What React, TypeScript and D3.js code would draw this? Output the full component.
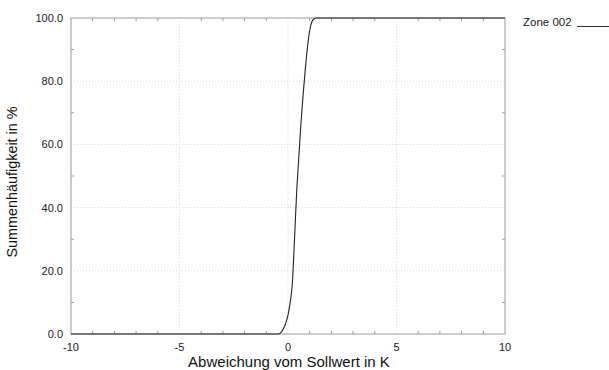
import React from "react";
import * as d3 from "d3";

const xTicks = [-10, -5, 0, 5, 10];
const yTicks = [0, 20, 40, 60, 80, 100];
const xMinor = [-9, -8, -7, -6, -4, -3, -2, -1, 1, 2, 3, 4, 6, 7, 8, 9];
const yMinor = [10, 30, 50, 70, 90];

const seriesName = "Zone 002";
const devX = [-10, -0.5, -0.4, -0.3, -0.2, -0.1, 0.0, 0.1, 0.2, 0.3, 0.4, 0.5, 0.6, 0.7, 0.8, 0.9, 1.0, 1.1, 1.2, 1.3, 10];
const cumY = [0, 0, 0.1, 0.7, 1.8, 3.5, 6, 10, 16, 30, 45, 56, 67, 76, 84, 91, 96, 98.8, 99.7, 100, 100];

const W = 609, H = 370;
const L = 71, R = 505, T = 18, B = 334;
const FONT = "'Liberation Sans', Arial, sans-serif";

export default function App() {
  const x = d3.scaleLinear().domain([-10, 10]).range([L, R]);
  const y = d3.scaleLinear().domain([0, 100]).range([B, T]);
  const pts: [number, number][] = devX.map((d, i) => [d, cumY[i]]);
  const line = d3.line<[number, number]>()
    .x(d => x(d[0]))
    .y(d => y(d[1]))
    .curve(d3.curveMonotoneX);
  const axisCol = "#9a9a9a";
  const gridCol = "#d4d4d4";
  const tl = 3;
  return (
    <svg width={W} height={H} style={{ position: "fixed", left: 0, top: 0 }} fontFamily={FONT}>
      <rect width={W} height={H} fill="#fff" />
      {xTicks.slice(1, -1).map(t => (
        <line key={"gx" + t} x1={x(t)} x2={x(t)} y1={T} y2={B} stroke={gridCol} strokeDasharray="1,2" />
      ))}
      {yTicks.slice(1, -1).map(t => (
        <line key={"gy" + t} x1={L} x2={R} y1={y(t)} y2={y(t)} stroke={gridCol} strokeDasharray="1,2" />
      ))}
      {xMinor.map(t => (
        <g key={"mx" + t} stroke={axisCol}>
          <line x1={x(t)} x2={x(t)} y1={B} y2={B - tl} />
          <line x1={x(t)} x2={x(t)} y1={T} y2={T + tl} />
        </g>
      ))}
      {yMinor.map(t => (
        <g key={"my" + t} stroke={axisCol}>
          <line x1={L} x2={L + tl} y1={y(t)} y2={y(t)} />
          <line x1={R} x2={R - tl} y1={y(t)} y2={y(t)} />
        </g>
      ))}
      <rect x={L} y={T} width={R - L} height={B - T} fill="none" stroke={axisCol} />
      <path d={line(pts) || ""} fill="none" stroke="#222" strokeWidth={1.1} />
      {xTicks.map(t => (
        <text key={"tx" + t} x={x(t)} y={351} textAnchor="middle" fontSize={11} fill="#222">{t}</text>
      ))}
      {yTicks.map(t => (
        <text key={"ty" + t} x={63} y={y(t) + 4} textAnchor="end" fontSize={11} fill="#222">{t.toFixed(1)}</text>
      ))}
      <text x={289} y={367} textAnchor="middle" fontSize={15} fill="#111">Abweichung vom Sollwert in K</text>
      <text transform={`translate(16.5,182) rotate(-90)`} textAnchor="middle" fontSize={14.4} fill="#111">Summenhäufigkeit in %</text>
      <text x={523} y={26} fontSize={11.5} fill="#222">{seriesName}</text>
      <line x1={577} x2={609} y1={26.5} y2={26.5} stroke="#333" />
    </svg>
  );
}
